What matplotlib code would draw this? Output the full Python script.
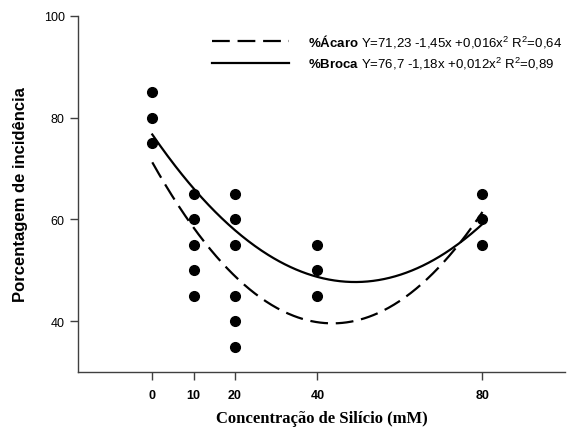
import numpy as np
import matplotlib
matplotlib.use("Agg")
import matplotlib.pyplot as plt

plt.rcParams['font.family'] = ['Liberation Sans', 'DejaVu Sans']
plt.rcParams['mathtext.fontset'] = 'custom'
plt.rcParams['mathtext.rm'] = 'Liberation Sans'
plt.rcParams['mathtext.bf'] = 'Liberation Sans:bold'
plt.rcParams['mathtext.it'] = 'Liberation Sans:italic'

# observed incidence values (%) per silicon concentration (mM)
conc_0 = [85, 80, 75]
conc_10 = [65, 60, 55, 50, 45]
conc_20 = [65, 60, 55, 45, 40, 35]
conc_40 = [55, 50, 45]
conc_80 = [65, 60, 55]
concentrations = [0, 10, 20, 40, 80]
observations = [conc_0, conc_10, conc_20, conc_40, conc_80]

# quadratic fits (intercept, linear, quadratic) as drawn
acaro_coef = [71.23, -1.45, 0.0166]
broca_coef = [76.7, -1.18, 0.012]
acaro_label = r"$\mathbf{\%Ácaro}$ Y=71,23 -1,45x +0,016x$^2$ R$^2$=0,64"
broca_label = r"$\mathbf{\%Broca}$ Y=76,7 -1,18x +0,012x$^2$ R$^2$=0,89"

x_ticks = [0, 10, 20, 40, 80]
y_ticks = [40, 60, 80, 100]

fig = plt.figure(figsize=(5.78, 4.35), dpi=100)
ax = fig.add_axes([78 / 578, 1 - 373 / 435, 487 / 578, 356 / 435])

for c, vals in zip(concentrations, observations):
    ax.plot([c] * len(vals), vals, 'o', color='black', markersize=7, zorder=3)

xs = np.linspace(0, 80, 300)
y_acaro = acaro_coef[0] + acaro_coef[1] * xs + acaro_coef[2] * xs ** 2
y_broca = broca_coef[0] + broca_coef[1] * xs + broca_coef[2] * xs ** 2
ax.plot(xs, y_acaro, color='black', lw=1.6, dashes=(8, 3.5), label=acaro_label)
ax.plot(xs, y_broca, color='black', lw=1.6, label=broca_label)

ax.set_xlim(-18, 100)
ax.set_ylim(30, 100)
ax.set_xticks(x_ticks)
ax.set_yticks(y_ticks)

for side in ['top', 'right']:
    ax.spines[side].set_visible(False)
for side in ['left', 'bottom']:
    ax.spines[side].set_color('#404040')
    ax.spines[side].set_linewidth(1.0)
ax.tick_params(axis='both', direction='out', length=5.5, width=1.0,
               color='#404040', labelsize=9)
ax.tick_params(axis='y', pad=4)
ax.tick_params(axis='x', pad=6.5)
for lab in ax.get_xticklabels():
    lab.set_fontweight('bold')

ax.set_ylabel('Porcentagem de incidência', fontsize=12, fontweight='bold')
ax.yaxis.set_label_coords(-0.103, 0.5)
ax.set_xlabel('Concentração de Silício (mM)', fontsize=12, fontweight='bold',
              family='Liberation Serif')
ax.xaxis.set_label_coords(0.5, -0.108)

leg = ax.legend(loc='upper left', bbox_to_anchor=(212 / 578, 1 - 33 / 435),
                bbox_transform=fig.transFigure, frameon=False, fontsize=9.5,
                handlelength=5.8, handletextpad=1.5, labelspacing=0.45,
                borderpad=0, borderaxespad=0)

fig.savefig('out.png', dpi=100)
